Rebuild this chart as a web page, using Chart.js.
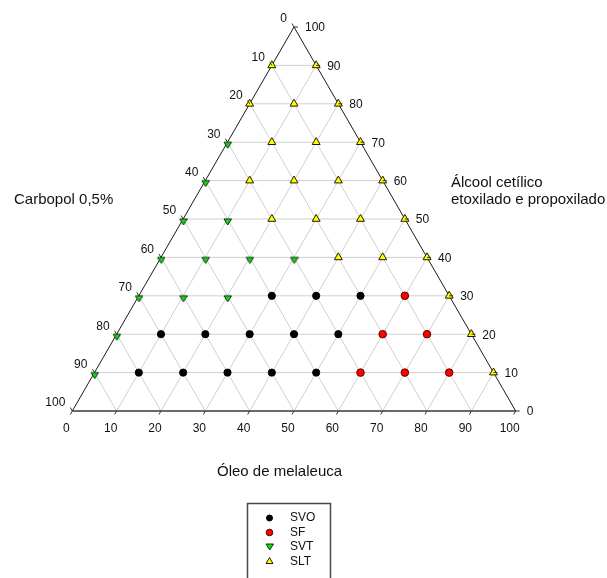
<!DOCTYPE html>
<html>
<head>
<meta charset="utf-8">
<script src="https://cdn.jsdelivr.net/npm/chart.js@4"></script>
<style>
  html, body { margin: 0; padding: 0; background: #ffffff; }
  canvas { display: block; }
</style>
</head>
<body>
<canvas id="c" width="607" height="578"></canvas>
<script>
// ---------- DATA (composition in %: óleo, álcool; carbopol = 100 - óleo - álcool) ----------
const seriesNames = ['SVO', 'SF', 'SVT', 'SLT'];

const svoOleo   = [10, 20, 30, 40, 50, 10, 20, 30, 40, 50, 30, 40, 50];
const svoAlcool = [10, 10, 10, 10, 10, 20, 20, 20, 20, 20, 30, 30, 30];

const sfOleo    = [60, 70, 80, 60, 70, 60];
const sfAlcool  = [10, 10, 10, 20, 20, 30];

const svtOleo   = [0, 0, 0, 10, 20, 0, 10, 20, 30, 0, 10, 0, 0];
const svtAlcool = [10, 20, 30, 30, 30, 40, 40, 40, 40, 50, 50, 60, 70];

const sltOleo   = [90, 80, 70, 40, 50, 60, 20, 30, 40, 50, 10, 20, 30, 40, 10, 20, 30, 0, 10, 20, 0, 10];
const sltAlcool = [10, 20, 30, 40, 40, 40, 50, 50, 50, 50, 60, 60, 60, 60, 70, 70, 70, 80, 80, 80, 90, 90];

const tickValues = [0, 10, 20, 30, 40, 50, 60, 70, 80, 90, 100];
const gridValues = [10, 20, 30, 40, 50, 60, 70, 80, 90];

const titleBottom = 'Óleo de melaleuca';
const titleLeft = 'Carbopol 0,5%';
const titleRight = ['Álcool cetílico', 'etoxilado e propoxilado'];

// ---------- ternary -> cartesian ----------
const H = Math.sqrt(3) / 2;
function tern(oleo, alcool) { return { x: oleo + alcool / 2, y: alcool * H }; }
function series(oleo, alcool) { return oleo.map((o, i) => tern(o, alcool[i])); }

const FONT = "Arial, 'Liberation Sans', sans-serif";

// inverted triangle marker whose flat top edge sits on the data point
function makeDownTriangle(w, h, fill, stroke) {
  const cv = document.createElement('canvas');
  cv.width = w + 2;
  cv.height = 2 * h + 2;
  const c = cv.getContext('2d');
  const cy = cv.height / 2;
  c.beginPath();
  c.moveTo(1, cy);
  c.lineTo(1 + w, cy);
  c.lineTo(1 + w / 2, cy + h);
  c.closePath();
  c.fillStyle = fill;
  c.fill();
  c.strokeStyle = stroke;
  c.lineWidth = 1;
  c.stroke();
  return cv;
}
const svtMarker = makeDownTriangle(7.5, 6, '#11dd11', '#103010');

// ---------- datasets ----------
const datasets = [];
const pointStyles = {
  SVO: { pointStyle: 'circle', rotation: 0, radius: 3.6, backgroundColor: '#000000', borderColor: '#000000', lrad: 3 },
  SF:  { pointStyle: 'circle', rotation: 0, radius: 3.8, backgroundColor: '#ff0000', borderColor: '#5a0000', lrad: 3.3 },
  SVT: { pointStyle: svtMarker, rotation: 0, radius: 4.6, backgroundColor: '#11dd11', borderColor: '#103010', lrad: 4 },
  SLT: { pointStyle: 'triangle', rotation: 0, radius: 4.6, backgroundColor: '#ffff00', borderColor: '#202000', lrad: 4 }
};
const seriesData = {
  SVO: series(svoOleo, svoAlcool),
  SF: series(sfOleo, sfAlcool),
  SVT: series(svtOleo, svtAlcool),
  SLT: series(sltOleo, sltAlcool)
};
seriesNames.forEach(name => {
  const s = pointStyles[name];
  datasets.push({
    label: name,
    data: seriesData[name],
    showLine: false,
    pointStyle: s.pointStyle,
    rotation: s.rotation,
    pointRadius: s.radius,
    pointBackgroundColor: s.backgroundColor,
    pointBorderColor: s.borderColor,
    pointBorderWidth: 1,
    clip: false,
    order: 0
  });
});

function lineDs(p1, p2, color, width, order) {
  return {
    label: '',
    data: [p1, p2],
    showLine: true,
    borderColor: color,
    borderWidth: width,
    pointRadius: 0,
    fill: false,
    clip: false,
    order: order
  };
}
// grid lines
gridValues.forEach(k => {
  datasets.push(lineDs(tern(0, k), tern(100 - k, k), '#d0d0d0', 1, 3));       // constant álcool
  datasets.push(lineDs(tern(k, 0), tern(k, 100 - k), '#d0d0d0', 1, 3));       // constant óleo
  datasets.push(lineDs(tern(100 - k, 0), tern(0, 100 - k), '#d0d0d0', 1, 3)); // constant carbopol
});
// triangle edges
datasets.push(lineDs(tern(0, 0), tern(0, 100), '#1a1a1a', 1, 2));
datasets.push(lineDs(tern(100, 0), tern(0, 100), '#1a1a1a', 1, 2));
datasets.push(lineDs(tern(0, 0), tern(100, 0), '#6a6a6a', 2, 2));

// ---------- plugin: ticks, tick labels, titles, legend ----------
const ternaryDecor = {
  id: 'ternaryDecor',
  afterDraw(chart) {
    const { ctx } = chart;
    const xs = chart.scales.x, ys = chart.scales.y;
    const P = (o, a) => { const t = tern(o, a); return [xs.getPixelForValue(t.x), ys.getPixelForValue(t.y)]; };
    ctx.save();
    // tick marks
    ctx.strokeStyle = '#333333';
    ctx.lineWidth = 1;
    tickValues.forEach(v => {
      const [bx, by] = P(v, 0);
      ctx.beginPath(); ctx.moveTo(bx, by); ctx.lineTo(bx - 2, by + 3.5); ctx.stroke();
      const [lx, ly] = P(0, 100 - v);
      ctx.beginPath(); ctx.moveTo(lx, ly); ctx.lineTo(lx - 2, ly - 3.5); ctx.stroke();
      const [rx, ry] = P(100 - v, v);
      ctx.beginPath(); ctx.moveTo(rx, ry); ctx.lineTo(rx + 4, ry); ctx.stroke();
    });
    // tick labels
    ctx.fillStyle = '#111111';
    ctx.font = '12px ' + FONT;
    ctx.textBaseline = 'middle';
    tickValues.forEach(v => {
      const [bx, by] = P(v, 0);
      ctx.textAlign = 'center';
      ctx.fillText(String(v), bx - 6, by + 17.5);
      const [lx, ly] = P(0, 100 - v);
      ctx.textAlign = 'right';
      ctx.fillText(String(v), lx - 7, ly - 8);
      const [rx, ry] = P(100 - v, v);
      ctx.textAlign = 'left';
      ctx.fillText(String(v), rx + 11, ry + 1);
    });
    // axis titles
    ctx.font = '15px ' + FONT;
    ctx.textAlign = 'left';
    ctx.textBaseline = 'alphabetic';
    ctx.fillText(titleLeft, 14, 204);
    ctx.fillText(titleRight[0], 451, 187);
    ctx.fillText(titleRight[1], 451, 204);
    ctx.fillText(titleBottom, 217, 476);
    // legend
    const boxX = 247.5, boxY = 503.5, boxW = 83, boxH = 80;
    ctx.strokeStyle = '#4a4a4a';
    ctx.lineWidth = 1.5;
    ctx.strokeRect(boxX, boxY, boxW, boxH);
    const rowY = [518, 532.5, 547, 561.5];
    ctx.font = '12px ' + FONT;
    ctx.textBaseline = 'middle';
    seriesNames.forEach((name, i) => {
      const s = pointStyles[name];
      ctx.fillStyle = s.backgroundColor;
      ctx.strokeStyle = s.borderColor;
      ctx.lineWidth = 1;
      const ly = (typeof s.pointStyle === 'string') ? rowY[i] : rowY[i] - 3;
      Chart.helpers.drawPoint(ctx, { pointStyle: s.pointStyle, rotation: s.rotation, radius: s.lrad, borderWidth: 1 }, 269.5, ly);
      ctx.fillStyle = '#111111';
      ctx.textAlign = 'left';
      ctx.fillText(name, 290, rowY[i]);
    });
    ctx.restore();
  }
};

new Chart(document.getElementById('c'), {
  type: 'scatter',
  data: { datasets: datasets },
  options: {
    responsive: false,
    devicePixelRatio: 1,
    animation: false,
    events: [],
    layout: { padding: { left: 72.3, right: 91.3, top: 27, bottom: 167 } },
    plugins: { legend: { display: false }, tooltip: { enabled: false } },
    scales: {
      x: { type: 'linear', min: 0, max: 100, display: false },
      y: { type: 'linear', min: 0, max: 100 * H, display: false }
    }
  },
  plugins: [ternaryDecor]
});
</script>
</body>
</html>
